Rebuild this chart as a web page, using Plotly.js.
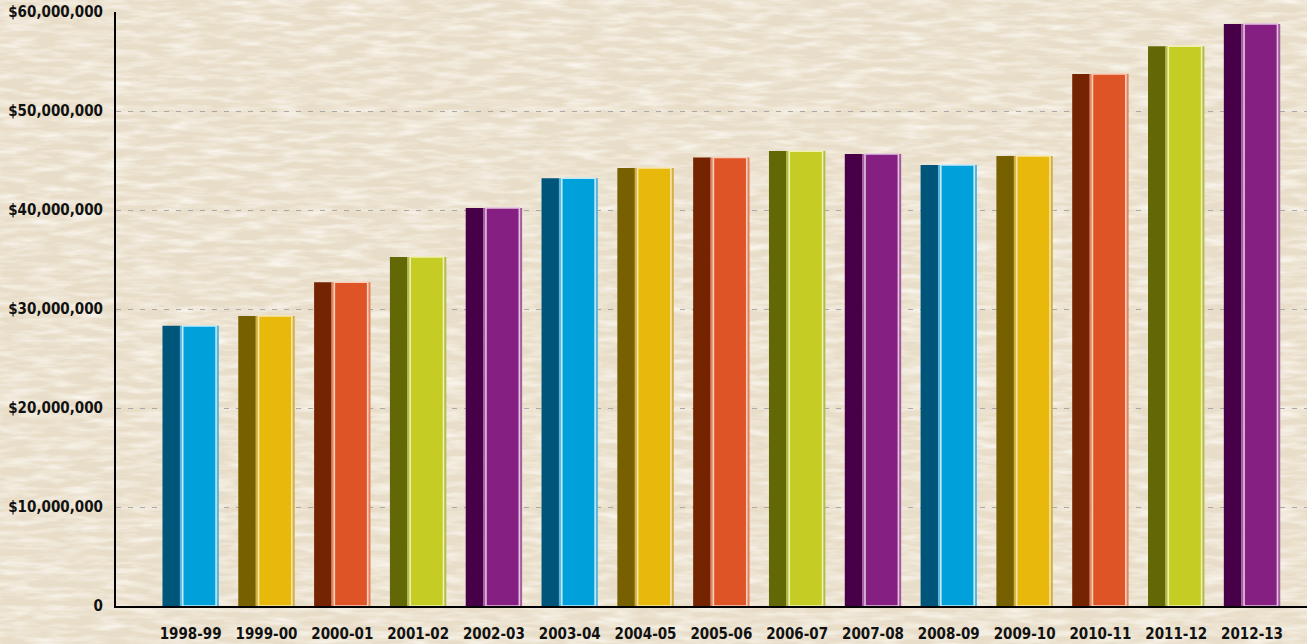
<!DOCTYPE html>
<html>
<head>
<meta charset="utf-8">
<script src="https://cdn.plot.ly/plotly-3.0.1.min.js"></script>
<style>
  html, body { margin:0; padding:0; width:1307px; height:644px; overflow:hidden; }
  body {
    background-color:#e8ddc8;
    background-image:url("data:image/svg+xml;utf8,<svg xmlns='http://www.w3.org/2000/svg' width='1307' height='644'><filter id='n' x='0' y='0' width='100%' height='100%'><feTurbulence type='fractalNoise' baseFrequency='0.03 0.16' numOctaves='3' seed='7'/><feColorMatrix type='matrix' values='0 0 0 0 1  0 0 0 0 0.99  0 0 0 0 0.96  1.5 0 0 0 -0.58'/></filter><rect width='100%' height='100%' filter='url(%23n)'/></svg>");
  }
  #chart { width:1307px; height:644px; }
</style>
</head>
<body>
<div id="chart"></div>
<script>
// ---- data ----
const years = ["1998-99","1999-00","2000-01","2001-02","2002-03","2003-04","2004-05","2005-06","2006-07","2007-08","2008-09","2009-10","2010-11","2011-12","2012-13"];
const amounts = [28300000, 29300000, 32700000, 35250000, 40200000, 43200000, 44250000, 45300000, 45950000, 45650000, 44550000, 45450000, 53750000, 56550000, 58800000];
const yTickVals = [0, 10000000, 20000000, 30000000, 40000000, 50000000, 60000000];
const yTickText = ["0", "$10,000,000", "$20,000,000", "$30,000,000", "$40,000,000", "$50,000,000", "$60,000,000"];

// ---- colour cycle (blue, gold, orange, lime, purple) ----
const sideCols   = ["#00557a", "#776000", "#742400", "#626806", "#470047"];
const borderCols = ["#58b6dc", "#d2ae3c", "#e3845e", "#b4bc46", "#a45c9f"];
const faceCols   = ["#00a0db", "#e8b90b", "#de5426", "#c5cd25", "#861f82"];
const lightCols  = ["#c6e9f6", "#f6e7b0", "#f6cfbd", "#eef0b4", "#e2c2df"];
const pick = arr => years.map((_, i) => arr[i % arr.length]);

const common = { type: "bar", x: years, y: amounts, hoverinfo: "skip", showlegend: false };
const traces = [
  Object.assign({}, common, { width: 0.232, offset: -0.372,
    marker: { color: pick(sideCols), line: { width: 0 } } }),
  Object.assign({}, common, { width: 0.515, offset: -0.143,
    marker: { color: pick(borderCols), line: { width: 0 } } }),
  Object.assign({}, common, { width: 0.44, offset: -0.105,
    marker: { color: pick(faceCols), line: { width: 1.6, color: pick(lightCols) } } })
];

const font = "'DejaVu Sans Condensed', 'Liberation Sans Narrow', 'Arial Narrow', sans-serif";
const layout = {
  width: 1307, height: 644,
  margin: { l: 116, r: 0, t: 12, b: 38, pad: 0 },
  paper_bgcolor: "rgba(0,0,0,0)",
  plot_bgcolor: "rgba(0,0,0,0)",
  barmode: "overlay",
  font: { family: font, size: 15, color: "#111" },
  xaxis: {
    type: "category",
    range: [-0.985, 14.725],
    showline: true, linecolor: "#000", linewidth: 2,
    showgrid: false, zeroline: false,
    ticks: "", ticklabelstandoff: 13, tickangle: 0,
    tickfont: { family: font, size: 15, color: "#111", weight: "bold" }
  },
  yaxis: {
    range: [0, 60000000],
    tickvals: yTickVals, ticktext: yTickText,
    showline: true, linecolor: "#000", linewidth: 2,
    showgrid: true, gridcolor: "#a9a9a9", gridwidth: 1, griddash: "5px,7px",
    zeroline: false, ticks: "", ticklabelstandoff: 8,
    tickfont: { family: font, size: 15, color: "#111", weight: "bold" }
  }
};

Plotly.newPlot("chart", traces, layout, { displayModeBar: false, staticPlot: true });
</script>
</body>
</html>
